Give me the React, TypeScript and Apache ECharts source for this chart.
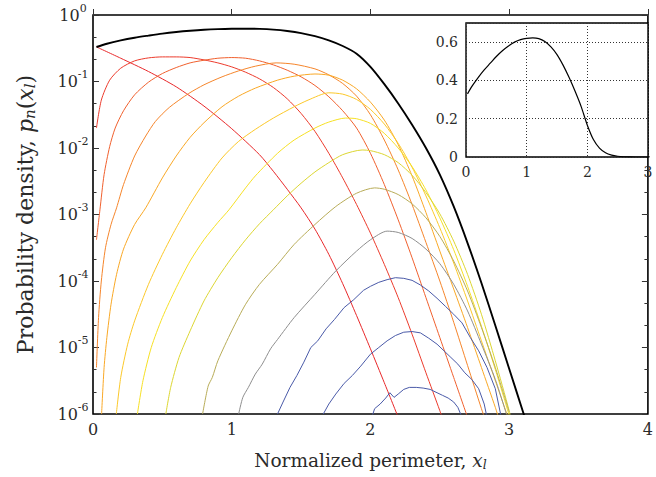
import React, { useEffect, useRef } from "react";
import * as echarts from "echarts";

const SERIF = "'DejaVu Serif', 'Liberation Serif', serif";
const TEXT = "#2a2a2a";

// Total density (sum over all orders), linear values
const totalX = [0.025, 0.1, 0.2, 0.3, 0.4, 0.5, 0.6, 0.7, 0.8, 0.9, 1.0, 1.1, 1.2, 1.3, 1.4, 1.5, 1.6, 1.7, 1.8, 1.9, 2.0, 2.1, 2.2, 2.3, 2.4, 2.5, 2.6, 2.7, 2.8, 2.9, 3.0, 3.1, 3.13];
const totalP = [0.33, 0.37, 0.415, 0.455, 0.49, 0.525, 0.555, 0.58, 0.6, 0.613, 0.62, 0.622, 0.618, 0.603, 0.575, 0.535, 0.48, 0.415, 0.342, 0.262, 0.166, 0.0912, 0.0468, 0.0224, 0.01, 0.00398, 0.00132, 3.72e-4, 9.33e-5, 2.14e-5, 4.79e-6, 1.07e-6, 6.8e-7];

// Per-order densities as [x, log10 p]
const order1: [number, number][] = [[0.025, -0.48], [0.2, -0.65], [0.4, -0.85], [0.6, -1.08], [0.8, -1.37], [1.0, -1.71], [1.2, -2.1], [1.3, -2.35], [1.4, -2.62], [1.5, -2.9], [1.6, -3.22], [1.7, -3.6], [1.8, -4.04], [1.9, -4.52], [2.0, -5.02], [2.1, -5.53], [2.2, -6.05]];
const order2: [number, number][] = [[0.025, -1.7], [0.06, -1.28], [0.12, -0.98], [0.2, -0.8], [0.3, -0.69], [0.4, -0.645], [0.5, -0.63], [0.6, -0.63], [0.7, -0.64], [0.8, -0.675], [0.9, -0.72], [1.0, -0.78], [1.1, -0.86], [1.2, -0.96], [1.3, -1.09], [1.4, -1.26], [1.5, -1.48], [1.6, -1.75], [1.7, -2.08], [1.8, -2.45], [1.9, -2.85], [2.0, -3.28], [2.1, -3.75], [2.2, -4.25], [2.3, -4.8], [2.4, -5.38], [2.5, -5.95], [2.52, -6.07]];
const order3: [number, number][] = [[0.025, -3.38], [0.05, -2.93], [0.08, -2.4], [0.12, -1.98], [0.16, -1.7], [0.22, -1.44], [0.3, -1.2], [0.4, -1.01], [0.5, -0.88], [0.6, -0.79], [0.7, -0.72], [0.8, -0.68], [0.9, -0.65], [1.0, -0.64], [1.1, -0.65], [1.2, -0.69], [1.3, -0.75], [1.4, -0.83], [1.5, -0.93], [1.6, -1.06], [1.7, -1.23], [1.8, -1.44], [1.9, -1.7], [2.0, -2.08], [2.1, -2.55], [2.2, -3.08], [2.3, -3.65], [2.4, -4.25], [2.5, -4.85], [2.6, -5.45], [2.7, -6.05]];
const order4: [number, number][] = [[0.025, -5.3], [0.04, -4.55], [0.06, -4.0], [0.09, -3.5], [0.13, -3.15], [0.17, -2.9], [0.22, -2.55], [0.3, -2.12], [0.38, -1.82], [0.45, -1.6], [0.55, -1.39], [0.69, -1.18], [0.8, -1.05], [0.93, -0.93], [1.05, -0.84], [1.17, -0.77], [1.32, -0.72], [1.45, -0.74], [1.6, -0.81], [1.7, -0.9], [1.8, -1.03], [1.9, -1.22], [2.0, -1.5], [2.1, -1.88], [2.2, -2.33], [2.3, -2.85], [2.4, -3.42], [2.5, -4.0], [2.6, -4.62], [2.7, -5.27], [2.8, -5.92], [2.83, -6.1]];
const order5: [number, number][] = [[0.062, -6.0], [0.08, -5.3], [0.1, -4.85], [0.13, -4.35], [0.17, -3.9], [0.22, -3.52], [0.3, -3.15], [0.38, -2.9], [0.5, -2.45], [0.6, -2.12], [0.7, -1.84], [0.8, -1.62], [0.93, -1.38], [1.05, -1.22], [1.17, -1.1], [1.33, -0.98], [1.45, -0.92], [1.6, -0.887], [1.7, -0.905], [1.8, -0.98], [1.9, -1.11], [2.0, -1.31], [2.1, -1.58], [2.2, -1.95], [2.3, -2.42], [2.4, -2.97], [2.5, -3.55], [2.6, -4.12], [2.7, -4.7], [2.8, -5.3], [2.9, -5.9], [2.93, -6.1]];
const order6: [number, number][] = [[0.168, -6.0], [0.2, -5.45], [0.25, -4.95], [0.3, -4.6], [0.4, -4.05], [0.5, -3.6], [0.6, -3.2], [0.7, -2.84], [0.8, -2.52], [0.93, -2.15], [1.05, -1.9], [1.17, -1.72], [1.3, -1.55], [1.45, -1.38], [1.55, -1.28], [1.7, -1.17], [1.8, -1.19], [1.9, -1.27], [2.0, -1.42], [2.1, -1.64], [2.2, -1.93], [2.3, -2.29], [2.4, -2.72], [2.5, -3.2], [2.6, -3.73], [2.7, -4.3], [2.8, -4.9], [2.9, -5.5], [3.0, -6.1]];
const order7: [number, number][] = [[0.32, -6.0], [0.36, -5.5], [0.42, -5.0], [0.5, -4.55], [0.6, -4.1], [0.7, -3.7], [0.8, -3.38], [0.9, -3.12], [0.98, -2.93], [1.1, -2.6], [1.17, -2.42], [1.33, -2.08], [1.45, -1.88], [1.6, -1.7], [1.7, -1.61], [1.82, -1.55], [1.9, -1.56], [2.0, -1.63], [2.1, -1.78], [2.2, -2.0], [2.3, -2.28], [2.4, -2.63], [2.5, -3.05], [2.6, -3.53], [2.7, -4.08], [2.8, -4.68], [2.9, -5.33], [3.0, -6.02]];
const order8: [number, number][] = [[0.525, -6.0], [0.56, -5.6], [0.62, -5.15], [0.7, -4.75], [0.8, -4.3], [0.9, -3.95], [1.0, -3.65], [1.1, -3.38], [1.2, -3.14], [1.3, -2.93], [1.4, -2.72], [1.5, -2.53], [1.6, -2.36], [1.7, -2.22], [1.8, -2.1], [1.94, -2.03], [2.0, -2.04], [2.1, -2.1], [2.2, -2.22], [2.3, -2.41], [2.4, -2.67], [2.5, -2.99], [2.6, -3.4], [2.7, -3.9], [2.8, -4.5], [2.9, -5.2], [3.0, -5.95], [3.01, -6.05]];
const order9: [number, number][] = [[0.79, -6.0], [0.83, -5.58], [0.86, -5.45], [0.9, -5.2], [1.0, -4.75], [1.1, -4.35], [1.2, -4.05], [1.33, -3.75], [1.45, -3.45], [1.6, -3.15], [1.75, -2.88], [1.9, -2.68], [2.03, -2.6], [2.1, -2.62], [2.2, -2.7], [2.3, -2.84], [2.4, -3.05], [2.5, -3.33], [2.6, -3.7], [2.7, -4.15], [2.8, -4.7], [2.9, -5.3], [3.0, -5.97]];
const order10: [number, number][] = [[1.05, -6.0], [1.08, -5.75], [1.12, -5.6], [1.17, -5.4], [1.22, -5.25], [1.28, -5.02], [1.33, -4.88], [1.45, -4.55], [1.6, -4.2], [1.75, -3.85], [1.9, -3.55], [2.0, -3.38], [2.12, -3.25], [2.2, -3.27], [2.3, -3.36], [2.4, -3.52], [2.5, -3.74], [2.6, -4.05], [2.7, -4.45], [2.8, -4.95], [2.9, -5.48], [2.98, -6.0]];
const order11: [number, number][] = [[1.33, -6.0], [1.37, -5.82], [1.42, -5.6], [1.47, -5.42], [1.52, -5.22], [1.57, -5.0], [1.62, -4.9], [1.68, -4.72], [1.74, -4.58], [1.81, -4.4], [1.88, -4.28], [1.95, -4.14], [2.0, -4.08], [2.06, -4.02], [2.12, -3.98], [2.18, -3.95], [2.24, -3.96], [2.3, -3.99], [2.36, -4.06], [2.42, -4.15], [2.48, -4.26], [2.54, -4.38], [2.6, -4.5], [2.66, -4.63], [2.72, -4.85], [2.78, -5.05], [2.84, -5.3], [2.9, -5.62], [2.94, -6.02]];
const order12: [number, number][] = [[1.66, -6.0], [1.7, -5.85], [1.75, -5.7], [1.81, -5.54], [1.87, -5.42], [1.93, -5.28], [2.0, -5.1], [2.06, -5.0], [2.12, -4.9], [2.18, -4.82], [2.24, -4.77], [2.3, -4.76], [2.36, -4.78], [2.42, -4.86], [2.48, -4.95], [2.53, -5.05], [2.58, -5.15], [2.63, -5.25], [2.68, -5.38], [2.73, -5.48], [2.78, -5.62], [2.82, -5.85], [2.84, -6.05]];
const order13: [number, number][] = [[2.01, -6.05], [2.03, -5.92], [2.07, -5.85], [2.11, -5.76], [2.14, -5.68], [2.17, -5.75], [2.2, -5.7], [2.24, -5.63], [2.28, -5.6], [2.33, -5.6], [2.38, -5.61], [2.43, -5.63], [2.48, -5.68], [2.52, -5.72], [2.56, -5.76], [2.6, -5.82], [2.63, -5.9], [2.66, -6.05]];

const orders = [order1, order2, order3, order4, order5, order6, order7, order8, order9, order10, order11, order12, order13];
const orderColors = ["#e8282a", "#ec3b2c", "#f0602e", "#f5852b", "#f9a826", "#fbc82a", "#f6e024", "#dcd632", "#b8ac58", "#8e8e8e", "#4a5aa8", "#4a5aa8", "#4a5aa8"];
const jagged = [false, false, false, false, false, false, false, false, false, false, true, true, true];

const xTicksMain = [0, 1, 2, 3, 4];
const insetXTicks = [0, 1, 2, 3];
const insetYTicks = [0, 0.2, 0.4, 0.6];

export default function App() {
  const ref = useRef<HTMLDivElement>(null);

  useEffect(() => {
    if (!ref.current) return;
    const chart = echarts.init(ref.current, undefined, { renderer: "svg" });

    const orderSeries = orders.map((pts, i) => ({
      type: "line",
      xAxisIndex: 0,
      yAxisIndex: 0,
      showSymbol: false,
      symbol: "none",
      silent: true,
      clip: true,
      smooth: jagged[i] ? false : 0.25,
      data: pts.map(([x, lg]) => [x, Math.pow(10, lg)]),
      lineStyle: { color: orderColors[i], width: 1 },
      z: 2,
    }));

    const totalData = totalX.map((x, i) => [x, totalP[i]]);

    const option: any = {
      animation: false,
      backgroundColor: "#ffffff",
      grid: [
        { left: 93, top: 15, width: 561, height: 399, show: true, borderColor: "#000", borderWidth: 1.6, backgroundColor: "transparent" },
        { left: 466, top: 23, width: 182, height: 134, show: true, borderColor: "#000", borderWidth: 1.4, backgroundColor: "#ffffff", z: 5 },
      ],
      xAxis: [
        {
          gridIndex: 0,
          type: "value",
          min: xTicksMain[0],
          max: xTicksMain[xTicksMain.length - 1],
          interval: 1,
          position: "bottom",
          axisLine: { show: false },
          axisTick: { show: true, inside: true, length: 6, lineStyle: { color: "#333", width: 1 } },
          axisLabel: { color: TEXT, fontSize: 16, fontFamily: SERIF, margin: 7 },
          splitLine: { show: false },
          name: "Normalized perimeter, {i|x}{s|l}",
          nameLocation: "middle",
          nameGap: 36,
          nameTextStyle: {
            color: TEXT,
            fontSize: 18.5,
            fontFamily: SERIF,
            rich: {
              i: { fontSize: 18.5, fontFamily: SERIF, fontStyle: "italic", color: TEXT },
              s: { fontSize: 12.5, fontFamily: SERIF, fontStyle: "italic", color: TEXT, padding: [8, 0, 0, 0] },
            },
          },
        },
        {
          gridIndex: 1,
          type: "value",
          min: insetXTicks[0],
          max: insetXTicks[insetXTicks.length - 1],
          interval: 1,
          axisLine: { show: false },
          axisTick: { show: false },
          axisLabel: { color: TEXT, fontSize: 14, fontFamily: SERIF, margin: 8 },
          splitLine: { show: true, lineStyle: { color: "#333", width: 1, type: [1, 2] } },
          z: 6,
        },
      ],
      yAxis: [
        {
          gridIndex: 0,
          type: "log",
          logBase: 10,
          min: 1e-6,
          max: 1,
          interval: 1,
          position: "left",
          axisLine: { show: false },
          axisTick: { show: true, inside: true, length: 6, lineStyle: { color: "#333", width: 1 } },
          axisLabel: {
            margin: 20,
            align: "center",
            color: TEXT,
            fontFamily: SERIF,
            formatter: (v: number) => `{b|10}{s|${Math.round(Math.log10(v))}}`,
            rich: {
              b: { fontSize: 16, fontFamily: SERIF, color: TEXT },
              s: { fontSize: 11, fontFamily: SERIF, color: TEXT, padding: [0, 0, 14, 0] },
            },
          },
          splitLine: { show: false },
          name: "Probability density, {i|p}{s|n}({i|x}{s|l})",
          nameLocation: "middle",
          nameGap: 56,
          nameRotate: 90,
          nameTextStyle: {
            color: TEXT,
            fontSize: 22,
            fontFamily: SERIF,
            rich: {
              i: { fontSize: 22, fontFamily: SERIF, fontStyle: "italic", color: TEXT },
              s: { fontSize: 15, fontFamily: SERIF, fontStyle: "italic", color: TEXT, padding: [9, 0, 0, 0] },
            },
          },
        },
        {
          // minor ticks for the left edge, one third of a decade apart
          gridIndex: 0,
          type: "value",
          min: -6,
          max: 0,
          interval: 1,
          position: "left",
          axisLine: { show: false },
          axisTick: { show: false, inside: true },
          minorTick: { show: true, splitNumber: 3, length: 3.5, lineStyle: { color: "#333", width: 1 } },
          axisLabel: { show: false },
          splitLine: { show: false },
        },
        {
          // mirrored ticks on the right edge
          gridIndex: 0,
          type: "value",
          min: -6,
          max: 0,
          interval: 1,
          position: "right",
          axisLine: { show: false },
          axisTick: { show: true, inside: true, length: 6, lineStyle: { color: "#333", width: 1 } },
          minorTick: { show: true, splitNumber: 3, length: 3.5, lineStyle: { color: "#333", width: 1 } },
          axisLabel: { show: false },
          splitLine: { show: false },
        },
        {
          gridIndex: 1,
          type: "value",
          min: 0,
          max: 0.7,
          interval: 0.2,
          axisLine: { show: false },
          axisTick: { show: false },
          axisLabel: {
            color: TEXT,
            fontSize: 14,
            fontFamily: SERIF,
            margin: 8,
            formatter: (v: number) => (insetYTicks.some((t) => Math.abs(t - v) < 1e-9) ? String(v) : ""),
          },
          splitLine: { show: true, lineStyle: { color: "#333", width: 1, type: [1, 2] } },
          z: 6,
        },
      ],
      series: [
        ...orderSeries,
        {
          type: "line",
          xAxisIndex: 0,
          yAxisIndex: 0,
          showSymbol: false,
          symbol: "none",
          silent: true,
          clip: true,
          smooth: 0.3,
          data: totalData,
          lineStyle: { color: "#000", width: 1.9 },
          z: 3,
        },
        {
          type: "line",
          xAxisIndex: 1,
          yAxisIndex: 3,
          showSymbol: false,
          symbol: "none",
          silent: true,
          clip: true,
          smooth: 0.3,
          data: totalData,
          lineStyle: { color: "#000", width: 1.2 },
          z: 7,
        },
      ],
    };

    chart.setOption(option);
    return () => chart.dispose();
  }, []);

  return (
    <div
      ref={ref}
      style={{ position: "absolute", left: 0, top: 0, width: 656, height: 477, background: "#fff" }}
    />
  );
}
